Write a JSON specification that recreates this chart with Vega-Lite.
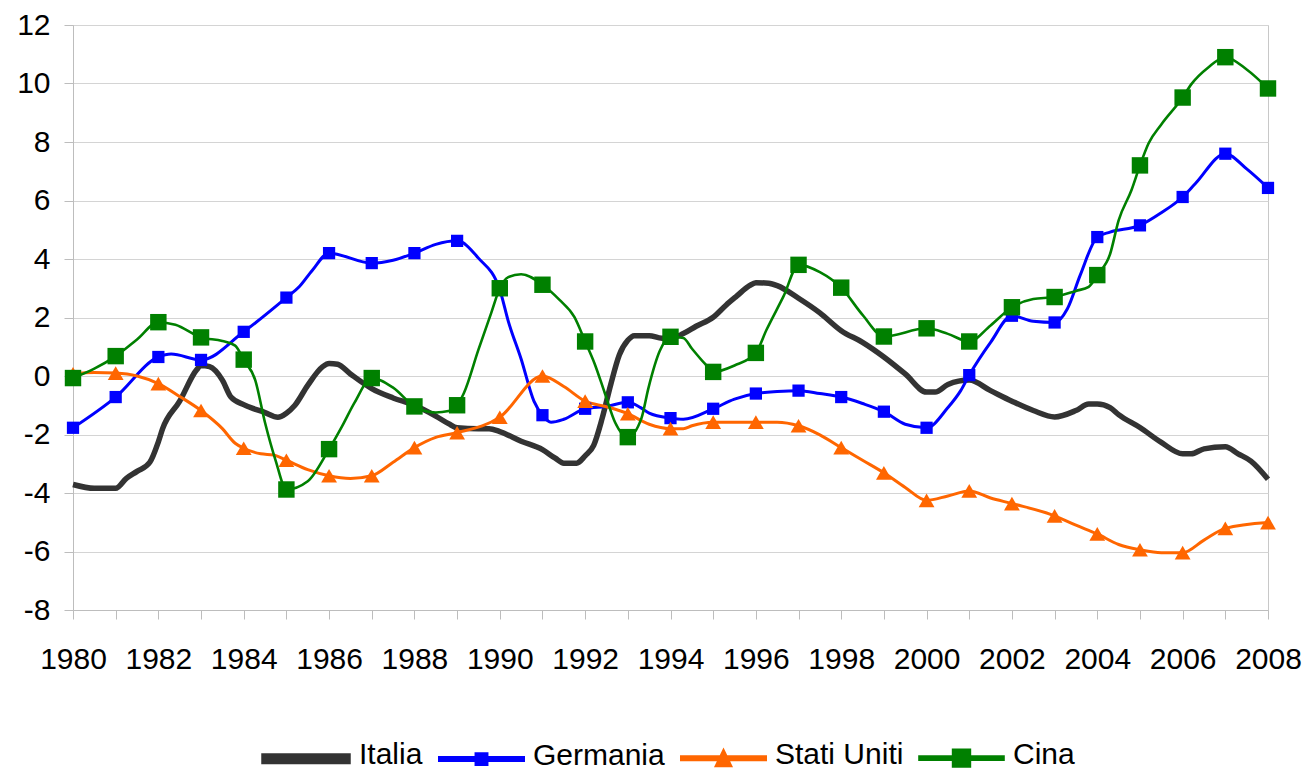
{
  "$schema": "https://vega.github.io/schema/vega-lite/v6.json",
  "width": 1195,
  "height": 585,
  "autosize": {"type": "none"},
  "padding": {"left": 73, "top": 25, "right": 42, "bottom": 161},
  "background": "white",
  "config": {
    "font": "Liberation Sans",
    "view": {"stroke": "#c8c8c8", "strokeWidth": 1},
    "axis": {
      "labelFont": "Liberation Sans",
      "labelFontSize": 30,
      "labelColor": "#000000",
      "domainColor": "#bdbdbd",
      "tickColor": "#bdbdbd",
      "tickSize": 9,
      "title": null
    }
  },
  "data": {
    "values": [
      {"year": 1980, "series": "Italia", "value": -3.71},
      {"year": 1980.5, "series": "Italia", "value": -3.84},
      {"year": 1981, "series": "Italia", "value": -3.84},
      {"year": 1981.25, "series": "Italia", "value": -3.5},
      {"year": 1981.5, "series": "Italia", "value": -3.26},
      {"year": 1981.8, "series": "Italia", "value": -2.95},
      {"year": 1982, "series": "Italia", "value": -2.25},
      {"year": 1982.1, "series": "Italia", "value": -1.8},
      {"year": 1982.5, "series": "Italia", "value": -0.86},
      {"year": 1982.9, "series": "Italia", "value": 0.22},
      {"year": 1983, "series": "Italia", "value": 0.36},
      {"year": 1983.2, "series": "Italia", "value": 0.32},
      {"year": 1983.5, "series": "Italia", "value": -0.14},
      {"year": 1983.7, "series": "Italia", "value": -0.72},
      {"year": 1984, "series": "Italia", "value": -0.98},
      {"year": 1984.5, "series": "Italia", "value": -1.25},
      {"year": 1984.8, "series": "Italia", "value": -1.41},
      {"year": 1985, "series": "Italia", "value": -1.27},
      {"year": 1985.2, "series": "Italia", "value": -1.0},
      {"year": 1985.5, "series": "Italia", "value": -0.32},
      {"year": 1985.85, "series": "Italia", "value": 0.32},
      {"year": 1986, "series": "Italia", "value": 0.43},
      {"year": 1986.2, "series": "Italia", "value": 0.4},
      {"year": 1986.5, "series": "Italia", "value": 0.07},
      {"year": 1987, "series": "Italia", "value": -0.43},
      {"year": 1987.5, "series": "Italia", "value": -0.75},
      {"year": 1988, "series": "Italia", "value": -1.0},
      {"year": 1988.5, "series": "Italia", "value": -1.37},
      {"year": 1988.8, "series": "Italia", "value": -1.63},
      {"year": 1989, "series": "Italia", "value": -1.77},
      {"year": 1989.5, "series": "Italia", "value": -1.8},
      {"year": 1989.75, "series": "Italia", "value": -1.8},
      {"year": 1990, "series": "Italia", "value": -1.9},
      {"year": 1990.5, "series": "Italia", "value": -2.23},
      {"year": 1991, "series": "Italia", "value": -2.52},
      {"year": 1991.3, "series": "Italia", "value": -2.81},
      {"year": 1991.5, "series": "Italia", "value": -2.98},
      {"year": 1991.8, "series": "Italia", "value": -2.98},
      {"year": 1992, "series": "Italia", "value": -2.73},
      {"year": 1992.2, "series": "Italia", "value": -2.37},
      {"year": 1992.4, "series": "Italia", "value": -1.44},
      {"year": 1992.6, "series": "Italia", "value": -0.29},
      {"year": 1992.8, "series": "Italia", "value": 0.72},
      {"year": 1993, "series": "Italia", "value": 1.22},
      {"year": 1993.15, "series": "Italia", "value": 1.38},
      {"year": 1993.5, "series": "Italia", "value": 1.38},
      {"year": 1993.8, "series": "Italia", "value": 1.29},
      {"year": 1994, "series": "Italia", "value": 1.29},
      {"year": 1994.3, "series": "Italia", "value": 1.45},
      {"year": 1994.6, "series": "Italia", "value": 1.7},
      {"year": 1995, "series": "Italia", "value": 2.01},
      {"year": 1995.3, "series": "Italia", "value": 2.42},
      {"year": 1995.55, "series": "Italia", "value": 2.73},
      {"year": 1995.85, "series": "Italia", "value": 3.09},
      {"year": 1996, "series": "Italia", "value": 3.19},
      {"year": 1996.3, "series": "Italia", "value": 3.17},
      {"year": 1996.5, "series": "Italia", "value": 3.09},
      {"year": 1997, "series": "Italia", "value": 2.66},
      {"year": 1997.5, "series": "Italia", "value": 2.16},
      {"year": 1998, "series": "Italia", "value": 1.55},
      {"year": 1998.5, "series": "Italia", "value": 1.15},
      {"year": 1999, "series": "Italia", "value": 0.65},
      {"year": 1999.5, "series": "Italia", "value": 0.07},
      {"year": 2000, "series": "Italia", "value": -0.55},
      {"year": 2000.2, "series": "Italia", "value": -0.55},
      {"year": 2000.5, "series": "Italia", "value": -0.29},
      {"year": 2001, "series": "Italia", "value": -0.14},
      {"year": 2001.5, "series": "Italia", "value": -0.5},
      {"year": 2002, "series": "Italia", "value": -0.86},
      {"year": 2002.5, "series": "Italia", "value": -1.18},
      {"year": 2003, "series": "Italia", "value": -1.4},
      {"year": 2003.5, "series": "Italia", "value": -1.18},
      {"year": 2003.8, "series": "Italia", "value": -0.96},
      {"year": 2004, "series": "Italia", "value": -0.96},
      {"year": 2004.3, "series": "Italia", "value": -1.08},
      {"year": 2004.5, "series": "Italia", "value": -1.32},
      {"year": 2005, "series": "Italia", "value": -1.76},
      {"year": 2005.5, "series": "Italia", "value": -2.27},
      {"year": 2006, "series": "Italia", "value": -2.66},
      {"year": 2006.2, "series": "Italia", "value": -2.66},
      {"year": 2006.5, "series": "Italia", "value": -2.49},
      {"year": 2007, "series": "Italia", "value": -2.42},
      {"year": 2007.3, "series": "Italia", "value": -2.66},
      {"year": 2007.6, "series": "Italia", "value": -2.91},
      {"year": 2008, "series": "Italia", "value": -3.53},

      {"year": 1980, "series": "Germania", "value": -1.77},
      {"year": 1981, "series": "Germania", "value": -0.72},
      {"year": 1982, "series": "Germania", "value": 0.65},
      {"year": 1982.3, "series": "Germania", "value": 0.75},
      {"year": 1983, "series": "Germania", "value": 0.55},
      {"year": 1984, "series": "Germania", "value": 1.51},
      {"year": 1985, "series": "Germania", "value": 2.68},
      {"year": 1985.3, "series": "Germania", "value": 3.05},
      {"year": 1985.6, "series": "Germania", "value": 3.6},
      {"year": 1986, "series": "Germania", "value": 4.2},
      {"year": 1987, "series": "Germania", "value": 3.86},
      {"year": 1987.5, "series": "Germania", "value": 3.96},
      {"year": 1988, "series": "Germania", "value": 4.2},
      {"year": 1988.5, "series": "Germania", "value": 4.5},
      {"year": 1989, "series": "Germania", "value": 4.62},
      {"year": 1989.5, "series": "Germania", "value": 4.03},
      {"year": 1990, "series": "Germania", "value": 2.95},
      {"year": 1990.2, "series": "Germania", "value": 1.87},
      {"year": 1990.5, "series": "Germania", "value": 0.58},
      {"year": 1990.8, "series": "Germania", "value": -0.86},
      {"year": 1991, "series": "Germania", "value": -1.34},
      {"year": 1991.2, "series": "Germania", "value": -1.58},
      {"year": 1991.5, "series": "Germania", "value": -1.48},
      {"year": 1992, "series": "Germania", "value": -1.12},
      {"year": 1992.5, "series": "Germania", "value": -1.04},
      {"year": 1993, "series": "Germania", "value": -0.9},
      {"year": 1993.3, "series": "Germania", "value": -1.08},
      {"year": 1993.5, "series": "Germania", "value": -1.27},
      {"year": 1994, "series": "Germania", "value": -1.44},
      {"year": 1994.3, "series": "Germania", "value": -1.48},
      {"year": 1995, "series": "Germania", "value": -1.12},
      {"year": 1995.5, "series": "Germania", "value": -0.79},
      {"year": 1996, "series": "Germania", "value": -0.6},
      {"year": 1996.5, "series": "Germania", "value": -0.53},
      {"year": 1997, "series": "Germania", "value": -0.5},
      {"year": 1997.5, "series": "Germania", "value": -0.6},
      {"year": 1998, "series": "Germania", "value": -0.72},
      {"year": 1998.5, "series": "Germania", "value": -0.94},
      {"year": 1999, "series": "Germania", "value": -1.22},
      {"year": 1999.5, "series": "Germania", "value": -1.65},
      {"year": 2000, "series": "Germania", "value": -1.77},
      {"year": 2000.5, "series": "Germania", "value": -1.08},
      {"year": 2000.8, "series": "Germania", "value": -0.5},
      {"year": 2001, "series": "Germania", "value": 0.03},
      {"year": 2001.5, "series": "Germania", "value": 1.15},
      {"year": 2002, "series": "Germania", "value": 2.06},
      {"year": 2002.5, "series": "Germania", "value": 1.87},
      {"year": 2003, "series": "Germania", "value": 1.83},
      {"year": 2003.3, "series": "Germania", "value": 2.3},
      {"year": 2003.6, "series": "Germania", "value": 3.45},
      {"year": 2004, "series": "Germania", "value": 4.75},
      {"year": 2004.3, "series": "Germania", "value": 4.92},
      {"year": 2005, "series": "Germania", "value": 5.15},
      {"year": 2005.5, "series": "Germania", "value": 5.58},
      {"year": 2006, "series": "Germania", "value": 6.12},
      {"year": 2006.3, "series": "Germania", "value": 6.58},
      {"year": 2007, "series": "Germania", "value": 7.6},
      {"year": 2007.5, "series": "Germania", "value": 7.08},
      {"year": 2008, "series": "Germania", "value": 6.43},

      {"year": 1980, "series": "Stati Uniti", "value": 0.07},
      {"year": 1980.5, "series": "Stati Uniti", "value": 0.12},
      {"year": 1981, "series": "Stati Uniti", "value": 0.1},
      {"year": 1981.5, "series": "Stati Uniti", "value": 0.0},
      {"year": 1982, "series": "Stati Uniti", "value": -0.26},
      {"year": 1982.5, "series": "Stati Uniti", "value": -0.7},
      {"year": 1983, "series": "Stati Uniti", "value": -1.18},
      {"year": 1983.5, "series": "Stati Uniti", "value": -1.8},
      {"year": 1983.8, "series": "Stati Uniti", "value": -2.3},
      {"year": 1984, "series": "Stati Uniti", "value": -2.47},
      {"year": 1984.4, "series": "Stati Uniti", "value": -2.66},
      {"year": 1984.7, "series": "Stati Uniti", "value": -2.7},
      {"year": 1985, "series": "Stati Uniti", "value": -2.88},
      {"year": 1985.5, "series": "Stati Uniti", "value": -3.2},
      {"year": 1986, "series": "Stati Uniti", "value": -3.41},
      {"year": 1986.5, "series": "Stati Uniti", "value": -3.5},
      {"year": 1987, "series": "Stati Uniti", "value": -3.41},
      {"year": 1987.5, "series": "Stati Uniti", "value": -2.95},
      {"year": 1988, "series": "Stati Uniti", "value": -2.45},
      {"year": 1988.5, "series": "Stati Uniti", "value": -2.1},
      {"year": 1989, "series": "Stati Uniti", "value": -1.94},
      {"year": 1990, "series": "Stati Uniti", "value": -1.41},
      {"year": 1991, "series": "Stati Uniti", "value": 0.0},
      {"year": 1991.5, "series": "Stati Uniti", "value": -0.36},
      {"year": 1992, "series": "Stati Uniti", "value": -0.86},
      {"year": 1992.5, "series": "Stati Uniti", "value": -1.05},
      {"year": 1993, "series": "Stati Uniti", "value": -1.29},
      {"year": 1993.5, "series": "Stati Uniti", "value": -1.65},
      {"year": 1994, "series": "Stati Uniti", "value": -1.8},
      {"year": 1994.3, "series": "Stati Uniti", "value": -1.8},
      {"year": 1994.5, "series": "Stati Uniti", "value": -1.7},
      {"year": 1995, "series": "Stati Uniti", "value": -1.58},
      {"year": 1996, "series": "Stati Uniti", "value": -1.58},
      {"year": 1996.5, "series": "Stati Uniti", "value": -1.58},
      {"year": 1997, "series": "Stati Uniti", "value": -1.7},
      {"year": 1997.5, "series": "Stati Uniti", "value": -2.01},
      {"year": 1998, "series": "Stati Uniti", "value": -2.45},
      {"year": 1998.5, "series": "Stati Uniti", "value": -2.88},
      {"year": 1999, "series": "Stati Uniti", "value": -3.31},
      {"year": 1999.5, "series": "Stati Uniti", "value": -3.81},
      {"year": 2000, "series": "Stati Uniti", "value": -4.25},
      {"year": 2000.5, "series": "Stati Uniti", "value": -4.1},
      {"year": 2001, "series": "Stati Uniti", "value": -3.93},
      {"year": 2001.5, "series": "Stati Uniti", "value": -4.17},
      {"year": 2002, "series": "Stati Uniti", "value": -4.36},
      {"year": 2003, "series": "Stati Uniti", "value": -4.78},
      {"year": 2003.5, "series": "Stati Uniti", "value": -5.1},
      {"year": 2004, "series": "Stati Uniti", "value": -5.4},
      {"year": 2004.5, "series": "Stati Uniti", "value": -5.76},
      {"year": 2005, "series": "Stati Uniti", "value": -5.94},
      {"year": 2005.5, "series": "Stati Uniti", "value": -6.04},
      {"year": 2006, "series": "Stati Uniti", "value": -6.04},
      {"year": 2006.5, "series": "Stati Uniti", "value": -5.61},
      {"year": 2007, "series": "Stati Uniti", "value": -5.21},
      {"year": 2008, "series": "Stati Uniti", "value": -5.01},

      {"year": 1980, "series": "Cina", "value": -0.07},
      {"year": 1980.5, "series": "Cina", "value": 0.25},
      {"year": 1981, "series": "Cina", "value": 0.68},
      {"year": 1981.5, "series": "Cina", "value": 1.25},
      {"year": 1982, "series": "Cina", "value": 1.84},
      {"year": 1982.4, "series": "Cina", "value": 1.75},
      {"year": 1983, "series": "Cina", "value": 1.32},
      {"year": 1983.5, "series": "Cina", "value": 1.2},
      {"year": 1983.8, "series": "Cina", "value": 1.04},
      {"year": 1984, "series": "Cina", "value": 0.56},
      {"year": 1984.27, "series": "Cina", "value": -0.14},
      {"year": 1984.5, "series": "Cina", "value": -1.6},
      {"year": 1984.75, "series": "Cina", "value": -2.9},
      {"year": 1985, "series": "Cina", "value": -3.88},
      {"year": 1985.5, "series": "Cina", "value": -3.6},
      {"year": 1986, "series": "Cina", "value": -2.5},
      {"year": 1986.3, "series": "Cina", "value": -1.73},
      {"year": 1986.6, "series": "Cina", "value": -0.9},
      {"year": 1987, "series": "Cina", "value": -0.07},
      {"year": 1987.5, "series": "Cina", "value": -0.4},
      {"year": 1988, "series": "Cina", "value": -1.04},
      {"year": 1988.5, "series": "Cina", "value": -1.25},
      {"year": 1988.8, "series": "Cina", "value": -1.2},
      {"year": 1989, "series": "Cina", "value": -1.0},
      {"year": 1989.16, "series": "Cina", "value": -0.58},
      {"year": 1989.5, "series": "Cina", "value": 0.9},
      {"year": 1989.8, "series": "Cina", "value": 2.16},
      {"year": 1990, "series": "Cina", "value": 3.0},
      {"year": 1990.2, "series": "Cina", "value": 3.38},
      {"year": 1990.5, "series": "Cina", "value": 3.48},
      {"year": 1991, "series": "Cina", "value": 3.12},
      {"year": 1991.4, "series": "Cina", "value": 2.6},
      {"year": 1991.75, "series": "Cina", "value": 2.01},
      {"year": 1992, "series": "Cina", "value": 1.18},
      {"year": 1992.22, "series": "Cina", "value": 0.43},
      {"year": 1992.46, "series": "Cina", "value": -0.58},
      {"year": 1992.7, "series": "Cina", "value": -1.58},
      {"year": 1993, "series": "Cina", "value": -2.09},
      {"year": 1993.32, "series": "Cina", "value": -1.44},
      {"year": 1993.48, "series": "Cina", "value": -0.43},
      {"year": 1993.75, "series": "Cina", "value": 0.86},
      {"year": 1994, "series": "Cina", "value": 1.34},
      {"year": 1994.3, "series": "Cina", "value": 1.3},
      {"year": 1994.5, "series": "Cina", "value": 0.94},
      {"year": 1994.8, "series": "Cina", "value": 0.43},
      {"year": 1995, "series": "Cina", "value": 0.14},
      {"year": 1995.5, "series": "Cina", "value": 0.36},
      {"year": 1996, "series": "Cina", "value": 0.79},
      {"year": 1996.25, "series": "Cina", "value": 1.58},
      {"year": 1996.65, "series": "Cina", "value": 2.73},
      {"year": 1997, "series": "Cina", "value": 3.8},
      {"year": 1997.5, "series": "Cina", "value": 3.55},
      {"year": 1998, "series": "Cina", "value": 3.02},
      {"year": 1998.5, "series": "Cina", "value": 2.09},
      {"year": 1999, "series": "Cina", "value": 1.35},
      {"year": 2000, "series": "Cina", "value": 1.63},
      {"year": 2000.5, "series": "Cina", "value": 1.44},
      {"year": 2001, "series": "Cina", "value": 1.18},
      {"year": 2001.5, "series": "Cina", "value": 1.73},
      {"year": 2002, "series": "Cina", "value": 2.35},
      {"year": 2002.5, "series": "Cina", "value": 2.63},
      {"year": 2003, "series": "Cina", "value": 2.7},
      {"year": 2003.5, "series": "Cina", "value": 2.91},
      {"year": 2003.8, "series": "Cina", "value": 3.05},
      {"year": 2004, "series": "Cina", "value": 3.45},
      {"year": 2004.3, "series": "Cina", "value": 4.17},
      {"year": 2004.5, "series": "Cina", "value": 5.32},
      {"year": 2004.8, "series": "Cina", "value": 6.35},
      {"year": 2005, "series": "Cina", "value": 7.2},
      {"year": 2005.2, "series": "Cina", "value": 7.95},
      {"year": 2005.5, "series": "Cina", "value": 8.6},
      {"year": 2006, "series": "Cina", "value": 9.52},
      {"year": 2006.2, "series": "Cina", "value": 9.97},
      {"year": 2006.6, "series": "Cina", "value": 10.55},
      {"year": 2007, "series": "Cina", "value": 10.9},
      {"year": 2007.5, "series": "Cina", "value": 10.48},
      {"year": 2008, "series": "Cina", "value": 9.83}
    ]
  },
  "encoding": {
    "x": {
      "field": "year",
      "type": "quantitative",
      "scale": {"domain": [1980, 2008], "nice": false, "zero": false},
      "axis": {
        "values": [1980,1981,1982,1983,1984,1985,1986,1987,1988,1989,1990,1991,1992,1993,1994,1995,1996,1997,1998,1999,2000,2001,2002,2003,2004,2005,2006,2007,2008],
        "labelExpr": "datum.value % 2 === 0 ? '' + datum.value : ''",
        "grid": false,
        "labelPadding": 25,
        "labelFlush": false,
        "labelOverlap": false
      }
    },
    "y": {
      "field": "value",
      "type": "quantitative",
      "scale": {"domain": [-8, 12], "nice": false, "zero": false},
      "axis": {
        "values": [-8,-6,-4,-2,0,2,4,6,8,10,12],
        "labelExpr": "'' + datum.value",
        "grid": true,
        "gridColor": "#d4d4d4",
        "labelPadding": 14,
        "labelFlush": false,
        "labelOverlap": false
      }
    },
    "color": {
      "field": "series",
      "type": "nominal",
      "scale": {
        "domain": ["Italia", "Germania", "Stati Uniti", "Cina"],
        "range": ["#333333", "#0000ff", "#ff6600", "#008000"]
      },
      "legend": {
        "title": null,
        "orient": "none",
        "legendX": 188,
        "legendY": 685,
        "direction": "horizontal",
        "symbolSize": 7056,
        "labelFont": "Liberation Sans",
        "labelFontSize": 30,
        "labelColor": "#000000",
        "labelOffset": 8,
        "columnPadding": 10,
        "encode": {
          "symbols": {
            "update": {
              "shape": {"signal": "datum.value === 'Italia' ? 'M-1,0.015H1V0.145H-1Z' : datum.value === 'Germania' ? 'M-1,0.044H1V0.116H-1Z M-0.13,-0.05H0.13V0.21H-0.13Z' : datum.value === 'Stati Uniti' ? 'M-1,0.044H1V0.116H-1Z M0,-0.09L0.17,0.26H-0.17Z' : 'M-1,0.044H1V0.116H-1Z M-0.2,-0.12H0.2V0.28H-0.2Z'"},
              "fill": {"scale": "color", "field": "value"},
              "stroke": {"value": "transparent"},
              "strokeWidth": {"value": 0},
              "opacity": {"value": 1}
            }
          }
        }
      }
    }
  },
  "layer": [
    {
      "mark": {"type": "line", "interpolate": "monotone"},
      "encoding": {
        "strokeWidth": {
          "field": "series",
          "type": "nominal",
          "scale": {"type": "ordinal", "domain": ["Italia", "Germania", "Stati Uniti", "Cina"], "range": [5.5, 3, 3, 2.6]},
          "legend": null
        }
      }
    },
    {
      "transform": [{"filter": "datum.series !== 'Italia' && datum.year === floor(datum.year)"}],
      "mark": {"type": "point", "filled": true, "opacity": 1},
      "encoding": {
        "shape": {
          "field": "series",
          "type": "nominal",
          "scale": {"domain": ["Germania", "Stati Uniti", "Cina"], "range": ["square", "triangle-up", "square"]},
          "legend": null
        },
        "size": {
          "field": "series",
          "type": "nominal",
          "scale": {"type": "ordinal", "domain": ["Germania", "Stati Uniti", "Cina"], "range": [150, 250, 270]},
          "legend": null
        }
      }
    }
  ]
}
